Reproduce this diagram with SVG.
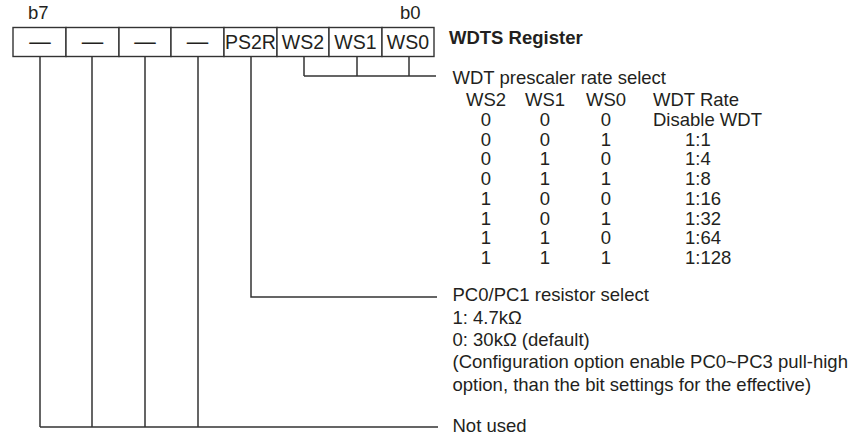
<svg xmlns="http://www.w3.org/2000/svg" width="853" height="439" viewBox="0 0 853 439">
<style>
text{font-family:"Liberation Sans",Arial,sans-serif;font-size:18.5px;fill:#231f20}
.c{text-anchor:middle}
.b{font-weight:bold}
.t{font-size:19.5px}
.d{font-size:21.5px}
.cell{fill:#fff;stroke:#333;stroke-width:1.4}
.ln{fill:none;stroke:#333;stroke-width:1.5}
</style>
<rect width="853" height="439" fill="#fff"/>
<text x="28" y="19">b7</text>
<text x="400" y="19">b0</text>
<g id="bit7"><rect class="cell" x="13" y="27.5" width="53" height="29"/><text class="c d" x="40" y="49">—</text></g>
<g id="bit6"><rect class="cell" x="66" y="27.5" width="53" height="29"/><text class="c d" x="92.5" y="49">—</text></g>
<g id="bit5"><rect class="cell" x="119" y="27.5" width="52" height="29"/><text class="c d" x="145" y="49">—</text></g>
<g id="bit4"><rect class="cell" x="171" y="27.5" width="53" height="29"/><text class="c d" x="197.5" y="49">—</text></g>
<g id="bit3"><rect class="cell" x="224" y="27.5" width="53" height="29"/><text class="c t" x="250.5" y="48.5">PS2R</text></g>
<g id="bit2"><rect class="cell" x="277" y="27.5" width="52" height="29"/><text class="c t" x="303" y="48.5">WS2</text></g>
<g id="bit1"><rect class="cell" x="329" y="27.5" width="53" height="29"/><text class="c t" x="355.5" y="48.5">WS1</text></g>
<g id="bit0"><rect class="cell" x="382" y="27.5" width="52" height="29"/><text class="c t" x="408" y="48.5">WS0</text></g>
<g id="title"><text class="b" x="449" y="44">WDTS Register</text></g>
<g id="connectors">
<path class="ln" d="M304 56.5V76M357 56.5V76M409 56.5V76M304 76H436"/>
<path class="ln" d="M251 56.5V297H437"/>
<path class="ln" d="M40 56.5V427M92 56.5V427M145 56.5V427M198 56.5V427M40 427H438"/>
</g>
<g id="ws-desc">
<text x="452.5" y="84">WDT prescaler rate select</text>
<text class="c" x="486" y="106">WS2</text><text class="c" x="545" y="106">WS1</text><text class="c" x="606" y="106">WS0</text><text x="653" y="106">WDT Rate</text>
<text class="c" x="486" y="126">0</text><text class="c" x="545" y="126">0</text><text class="c" x="606" y="126">0</text><text x="653" y="126">Disable WDT</text>
<text class="c" x="486" y="145.7">0</text><text class="c" x="545" y="145.7">0</text><text class="c" x="606" y="145.7">1</text><text x="685" y="145.7">1:1</text>
<text class="c" x="486" y="165.4">0</text><text class="c" x="545" y="165.4">1</text><text class="c" x="606" y="165.4">0</text><text x="685" y="165.4">1:4</text>
<text class="c" x="486" y="185.1">0</text><text class="c" x="545" y="185.1">1</text><text class="c" x="606" y="185.1">1</text><text x="685" y="185.1">1:8</text>
<text class="c" x="486" y="204.8">1</text><text class="c" x="545" y="204.8">0</text><text class="c" x="606" y="204.8">0</text><text x="685" y="204.8">1:16</text>
<text class="c" x="486" y="224.5">1</text><text class="c" x="545" y="224.5">0</text><text class="c" x="606" y="224.5">1</text><text x="685" y="224.5">1:32</text>
<text class="c" x="486" y="244.2">1</text><text class="c" x="545" y="244.2">1</text><text class="c" x="606" y="244.2">0</text><text x="685" y="244.2">1:64</text>
<text class="c" x="486" y="263.9">1</text><text class="c" x="545" y="263.9">1</text><text class="c" x="606" y="263.9">1</text><text x="685" y="263.9">1:128</text>
</g>
<g id="ps2r-desc">
<text x="452.5" y="301">PC0/PC1 resistor select</text>
<text x="452.5" y="323.5">1: 4.7kΩ</text>
<text x="452.5" y="345.5">0: 30kΩ (default)</text>
<text x="452.5" y="368">(Configuration option enable PC0~PC3 pull-high</text>
<text x="452.5" y="390.5">option, than the bit settings for the effective)</text>
</g>
<g id="unused-desc"><text x="452.5" y="432">Not used</text></g>
</svg>
